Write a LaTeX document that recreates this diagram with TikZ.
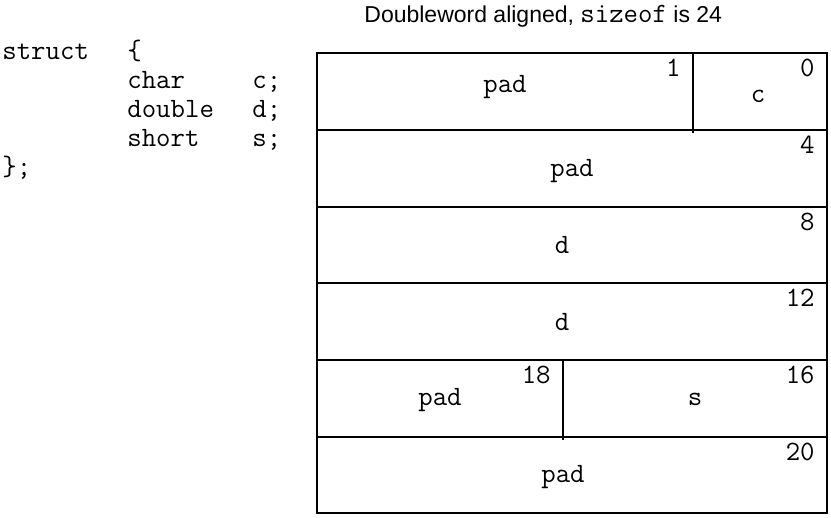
\documentclass[tikz,border=0pt]{standalone}
\usepackage{fontspec}
\setmainfont{Liberation Sans}
\setsansfont{Liberation Sans}
\setmonofont{Latin Modern Mono}
\usetikzlibrary{shapes}

\tikzset{
	cell/.style={line width=0.6pt,black},
	code/.style={font=\ttfamily\fontsize{14}{16}\selectfont,inner sep=0pt,anchor=base west},
	field/.style={font=\ttfamily\fontsize{14}{16}\selectfont,inner sep=0pt,anchor=mid},
	offs/.style={font=\ttfamily\fontsize{14}{16}\selectfont,inner sep=0pt,anchor=base east},
	heading/.style={font=\sffamily\fontsize{11.5}{14}\selectfont,inner sep=0pt,anchor=base west}
}

\begin{document}
\begin{tikzpicture}[x=0.5pt,y=-0.5pt]
		\useasboundingbox (0,0) rectangle (831,518);
		\node[heading] (title) at (364,23) {Doubleword aligned, {\ttfamily\fontsize{14}{16}\selectfont sizeof} is 24};
		% the struct
		\node[code] (kw) at (2,60) {struct};
		\node[code] (open) at (127,60) {\{};
		\node[code] (tchar) at (127,89) {char};
		\node[code] (vc) at (252,89) {c;};
		\node[code] (tdouble) at (127,118) {double};
		\node[code] (vd) at (252,118) {d;};
		\node[code] (tshort) at (127,147) {short};
		\node[code] (vs) at (252,147) {s;};
		\node[code] (close) at (2,176) {\};};
		% the layout
		\draw[cell] (317,53) rectangle (827,513);
		\draw[cell] (317,130) -- (827,130);
		\draw[cell] (317,207) -- (827,207);
		\draw[cell] (317,283) -- (827,283);
		\draw[cell] (317,360) -- (827,360);
		\draw[cell] (317,437) -- (827,437);
		\draw[cell] (693,53) -- (693,133);
		\draw[cell] (563,360) -- (563,440);
		\node[field] (pad1) at (505,87) {pad};
		\node[field] (c) at (758,97) {c};
		\node[offs] (o1) at (681,77) {1};
		\node[offs] (o0) at (815,77) {0};
		\node[field] (pad2) at (572,171) {pad};
		\node[offs] (o4) at (815,154) {4};
		\node[field] (d1) at (562,248) {d};
		\node[offs] (o8) at (815,231) {8};
		\node[field] (d2) at (562,325) {d};
		\node[offs] (o12) at (815,307) {12};
		\node[field] (pad3) at (440,400) {pad};
		\node[offs] (o18) at (551,384) {18};
		\node[field] (s) at (695,400) {s};
		\node[offs] (o16) at (815,384) {16};
		\node[field] (pad4) at (563,477) {pad};
		\node[offs] (o20) at (815,461) {20};
		\end{tikzpicture}
\end{document}
